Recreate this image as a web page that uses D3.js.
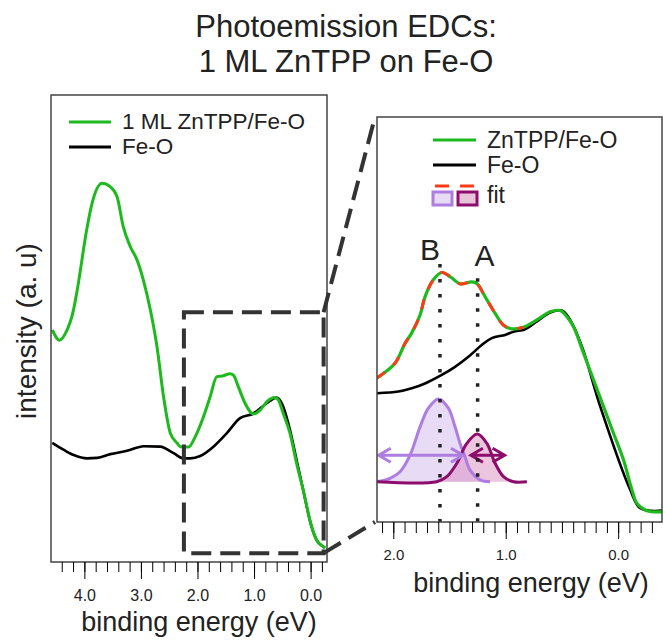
<html>
<script src='https://d3js.org/d3.v7.min.js'></script>
<style>
  body {margin:0; background:#fff;}
  text {font-family: 'Liberation Sans', Arial, sans-serif; fill:#222;}
</style>
<body>
<svg width=663 height=640></svg>
<script>
// ---- left panel: wide range EDCs (binding energy eV, intensity arb. u.)
var wideEnergyZn = [4.568,4.439,4.333,4.192,4.127,3.951,3.862,3.686,3.540,3.422,3.310,3.187,3.069,2.958,2.834,2.716,2.600,2.481,2.363,2.305,2.159,2.041,1.894,1.776,1.658,1.570,1.423,1.365,1.277,1.159,1.012,0.894,0.776,0.630,0.571,0.483,0.365,0.247,0.131,-0.018,-0.106,-0.222,-0.252];
var wideZn       = [49.7,47.5,49.0,54.0,58.2,71.7,76.9,81.1,80.3,78.2,71.7,67.5,64.7,60.4,54.0,46.1,35.4,27.6,25.5,24.7,24.6,26.8,31.1,35.4,39.7,39.8,40.3,40.0,37.5,34.0,31.7,32.5,34.3,35.2,34.7,31.8,27.6,21.1,15.4,7.6,4.7,3.3,3.0];
var wideEnergyFeO = [4.568,4.363,4.187,3.951,3.774,3.540,3.245,2.952,2.658,2.423,2.247,2.129,1.952,1.718,1.481,1.247,1.012,0.776,0.600,0.511,0.365,0.247,0.131,-0.018,-0.106,-0.222,-0.252];
var wideFeO       = [25.5,24.0,22.9,22.2,22.3,23.1,23.8,24.8,24.7,23.3,22.2,22.2,22.7,24.7,27.6,30.8,31.8,34.0,35.2,34.0,28.3,21.8,15.4,7.5,4.7,3.3,3.0];
var wideTicks = [4, 3, 2, 1, 0];
// zoomed region marked on the left panel
var zoomEnergy = [2.24, -0.23];
var zoomIntensity = [1.9, 53.5];

// ---- right panel: valence band close-up
var zoomEnergyZn = [2.148,1.985,1.896,1.836,1.762,1.718,1.644,1.569,1.495,1.406,1.302,1.257,1.183,1.094,1.020,0.946,0.842,0.723,0.605,0.516,0.456,0.397,0.308,0.219,0.130,0.041,-0.048,-0.123,-0.167,-0.256,-0.390];
var zoomZn       = [35.5,39.2,44.1,46.7,51.1,55.6,59.8,61.6,60.6,58.8,59.3,58.9,55.6,51.5,48.6,47.7,48.1,49.9,51.9,52.2,50.7,48.2,41.7,35.1,28.5,21.9,15.3,7.9,4.6,2.8,2.5];
var zoomEnergyFeO = [2.148,1.955,1.836,1.718,1.569,1.451,1.332,1.213,1.124,1.005,0.931,0.827,0.723,0.605,0.500,0.427,0.322,0.159,-0.108,-0.197,-0.390];
var zoomFeO       = [31.8,32.2,33.0,34.2,36.3,38.3,40.8,43.7,45.4,46.2,47.0,47.6,49.5,51.7,52.2,49.9,43.3,28.5,7.9,3.4,2.8];
var fitEnergy = [2.148,1.985,1.896,1.836,1.762,1.718,1.644,1.569,1.495,1.406,1.302,1.257,1.183,1.094,1.020,0.946,0.842];
var fitValues = [35.5,39.2,44.1,46.7,51.1,55.6,59.8,61.6,60.6,58.8,59.3,58.9,55.6,51.5,48.6,47.7,48.1];
// fit components B and A
var peakBEnergy = [2.148,2.029,1.940,1.851,1.762,1.688,1.599,1.510,1.451,1.406,1.362,1.317,1.228,1.139];
var peakB       = [9.95,10.8,12.4,16.5,23.5,28.1,30.4,28.1,23.5,19.4,16.1,12.8,10.4,9.95];
var peakAEnergy = [2.148,1.614,1.524,1.435,1.346,1.252,1.168,1.094,1.020,0.931,0.812];
var peakA       = [9.95,9.95,11.2,14.5,19.4,21.7,19.4,14.5,11.2,9.95,9.95];
var fitBaseline = 9.95;
var peakLabels = ["B", "A"];
var peakPositions = [1.585, 1.25];
var peakMarkTop = [63.7, 60.2];
var arrowRanges = [[2.13, 1.38], [1.31, 1.01]];
var arrowLevel = 16.5;
var zoomTicks = [2, 1, 0];

var green = "#1dba1d", red = "#ff3a17", lilac = "#ad7ddf", plum = "#8c0d6c";
var svg = d3.select("svg");

function pairs(xs, ys) { return xs.map(function(x, i){ return [x, ys[i]]; }); }

// title
svg.append("text").attr("x", 346).attr("y", 37).attr("text-anchor", "middle")
   .attr("font-size", 31).text("Photoemission EDCs:");
svg.append("text").attr("x", 346).attr("y", 72).attr("text-anchor", "middle")
   .attr("font-size", 31).text("1 ML ZnTPP on Fe-O");

// ---------- left panel
var xL = d3.scaleLinear().domain([4.59, -0.29]).range([51, 327]);
var yL = d3.scaleLinear().domain([0, 100]).range([562, 95]);

svg.append("clipPath").attr("id", "clipL").append("rect")
   .attr("x", 51).attr("y", 95).attr("width", 276).attr("height", 467);

var lineL = d3.line().x(function(d){ return xL(d[0]); }).y(function(d){ return yL(d[1]); })
   .curve(d3.curveMonotoneX);
var gL = svg.append("g").attr("clip-path", "url(#clipL)");
gL.append("path").attr("d", lineL(pairs(wideEnergyFeO, wideFeO).reverse()))
   .attr("fill", "none").attr("stroke", "#000").attr("stroke-width", 2.6);
gL.append("path").attr("d", lineL(pairs(wideEnergyZn, wideZn).reverse()))
   .attr("fill", "none").attr("stroke", green).attr("stroke-width", 3);

svg.append("rect").attr("x", 51).attr("y", 95).attr("width", 276).attr("height", 467)
   .attr("fill", "none").attr("stroke", "#444").attr("stroke-width", 1.5);

var minorL = d3.range(-0.2, 4.5, 0.2);
svg.append("g").attr("transform", "translate(0,562)")
   .call(d3.axisBottom(xL).tickValues(minorL).tickSize(10).tickFormat(""))
   .call(function(g){ g.select(".domain").remove(); });
svg.append("g").attr("transform", "translate(0,562)")
   .call(d3.axisBottom(xL).tickValues(wideTicks).tickSize(17).tickPadding(11).tickFormat(d3.format(".1f")))
   .call(function(g){ g.select(".domain").remove(); g.selectAll("text").attr("font-size", 16).attr("font-family", null); });

svg.append("text").attr("x", 199).attr("y", 631).attr("text-anchor", "middle")
   .attr("font-size", 27).text("binding energy (eV)");
svg.append("text").attr("transform", "translate(36,331) rotate(-90)").attr("text-anchor", "middle")
   .attr("font-size", 28).text("intensity (a. u)");

// legend left
svg.append("line").attr("x1", 69).attr("x2", 111).attr("y1", 122).attr("y2", 122)
   .attr("stroke", green).attr("stroke-width", 3);
svg.append("text").attr("x", 122).attr("y", 129).attr("font-size", 22.5).text("1 ML ZnTPP/Fe-O");
svg.append("line").attr("x1", 69).attr("x2", 111).attr("y1", 147).attr("y2", 147)
   .attr("stroke", "#000").attr("stroke-width", 3);
svg.append("text").attr("x", 122).attr("y", 154).attr("font-size", 22.5).text("Fe-O");

// zoom box + connectors
var dash = "20,9";
svg.append("rect")
   .attr("x", xL(zoomEnergy[0])).attr("y", yL(zoomIntensity[1]))
   .attr("width", xL(zoomEnergy[1]) - xL(zoomEnergy[0]))
   .attr("height", yL(zoomIntensity[0]) - yL(zoomIntensity[1]))
   .attr("fill", "none").attr("stroke", "#333").attr("stroke-width", 4).attr("stroke-dasharray", dash);

// ---------- right panel
var xR = d3.scaleLinear().domain([2.145, -0.39]).range([377, 662]);
var yR = d3.scaleLinear().domain([0, 100]).range([522, 117]);

svg.append("line").attr("x1", xL(zoomEnergy[1])).attr("y1", yL(zoomIntensity[1]))
   .attr("x2", xR.range()[0] - 2).attr("y2", yR.range()[1])
   .attr("stroke", "#333").attr("stroke-width", 4).attr("stroke-dasharray", dash);
svg.append("line").attr("x1", xL(zoomEnergy[1])).attr("y1", yL(zoomIntensity[0]))
   .attr("x2", xR.range()[0] - 2).attr("y2", yR.range()[0])
   .attr("stroke", "#333").attr("stroke-width", 4).attr("stroke-dasharray", dash);

svg.append("clipPath").attr("id", "clipR").append("rect")
   .attr("x", 377).attr("y", 117).attr("width", 285).attr("height", 405);
var gR = svg.append("g").attr("clip-path", "url(#clipR)");
var lineR = d3.line().x(function(d){ return xR(d[0]); }).y(function(d){ return yR(d[1]); })
   .curve(d3.curveCatmullRom);
var areaR = d3.area().x(function(d){ return xR(d[0]); }).y0(yR(fitBaseline)).y1(function(d){ return yR(d[1]); })
   .curve(d3.curveCatmullRom);

gR.append("path").attr("d", areaR(pairs(peakBEnergy, peakB))).attr("fill", lilac).attr("fill-opacity", 0.28);
gR.append("path").attr("d", areaR(pairs(peakAEnergy, peakA))).attr("fill", "#d98cbd").attr("fill-opacity", 0.5);
gR.append("path").attr("d", lineR(pairs(peakBEnergy, peakB)))
   .attr("fill", "none").attr("stroke", lilac).attr("stroke-width", 3);
gR.append("path").attr("d", lineR(pairs(peakAEnergy, peakA)))
   .attr("fill", "none").attr("stroke", plum).attr("stroke-width", 3);

// width arrows
[lilac, plum].forEach(function(c, i){
  var xa = xR(arrowRanges[i][0]), xb = xR(arrowRanges[i][1]), ya = yR(arrowLevel);
  gR.append("path")
    .attr("d", "M" + xa + "," + ya + "H" + xb +
               "M" + (xa + 12) + "," + (ya - 7) + "L" + xa + "," + ya + "L" + (xa + 12) + "," + (ya + 7) +
               "M" + (xb - 12) + "," + (ya - 7) + "L" + xb + "," + ya + "L" + (xb - 12) + "," + (ya + 7))
    .attr("fill", "none").attr("stroke", c).attr("stroke-width", 3);
});

gR.append("path").attr("d", lineR(pairs(zoomEnergyFeO, zoomFeO)))
   .attr("fill", "none").attr("stroke", "#000").attr("stroke-width", 2.6);
gR.append("path").attr("d", lineR(pairs(zoomEnergyZn, zoomZn)))
   .attr("fill", "none").attr("stroke", green).attr("stroke-width", 3.2);
gR.append("path").attr("d", lineR(pairs(fitEnergy, fitValues)))
   .attr("fill", "none").attr("stroke", red).attr("stroke-width", 3).attr("stroke-dasharray", "10,11");

// peak markers
peakPositions.forEach(function(e, i){
  svg.append("line").attr("x1", xR(e)).attr("x2", xR(e)).attr("y1", yR(peakMarkTop[i])).attr("y2", yR(0))
     .attr("stroke", "#222").attr("stroke-width", 3.5).attr("stroke-dasharray", "3.5,11.5");
});
svg.append("text").attr("x", xR(peakPositions[0]) - 10).attr("y", 260).attr("text-anchor", "middle")
   .attr("font-size", 30).text(peakLabels[0]);
svg.append("text").attr("x", xR(peakPositions[1]) + 7).attr("y", 266).attr("text-anchor", "middle")
   .attr("font-size", 30).text(peakLabels[1]);

svg.append("rect").attr("x", 377).attr("y", 117).attr("width", 285).attr("height", 405)
   .attr("fill", "none").attr("stroke", "#444").attr("stroke-width", 1.5);

var minorR = d3.range(-0.3, 2.15, 0.1);
svg.append("g").attr("transform", "translate(0,522)")
   .call(d3.axisBottom(xR).tickValues(minorR).tickSize(11).tickFormat(""))
   .call(function(g){ g.select(".domain").remove(); });
svg.append("g").attr("transform", "translate(0,522)")
   .call(d3.axisBottom(xR).tickValues(zoomTicks).tickSize(17).tickPadding(10).tickFormat(d3.format(".1f")))
   .call(function(g){ g.select(".domain").remove(); g.selectAll("text").attr("font-size", 15).attr("font-family", null); });

svg.append("text").attr("x", 531).attr("y", 592).attr("text-anchor", "middle")
   .attr("font-size", 27).text("binding energy (eV)");

// legend right
svg.append("line").attr("x1", 433).attr("x2", 476).attr("y1", 140).attr("y2", 140)
   .attr("stroke", green).attr("stroke-width", 3);
svg.append("text").attr("x", 487).attr("y", 148).attr("font-size", 23).text("ZnTPP/Fe-O");
svg.append("line").attr("x1", 433).attr("x2", 476).attr("y1", 165).attr("y2", 165)
   .attr("stroke", "#000").attr("stroke-width", 3);
svg.append("text").attr("x", 487).attr("y", 173).attr("font-size", 23).text("Fe-O");
[[433, lilac, "#e6dcf4"], [458, plum, "#e8c4db"]].forEach(function(s){
  svg.append("line").attr("x1", s[0] + 2).attr("x2", s[0] + 16).attr("y1", 186).attr("y2", 186)
     .attr("stroke", red).attr("stroke-width", 3);
  svg.append("rect").attr("x", s[0]).attr("y", 192).attr("width", 19).attr("height", 13)
     .attr("fill", s[2]).attr("stroke", s[1]).attr("stroke-width", 3);
});
svg.append("text").attr("x", 487).attr("y", 203).attr("font-size", 23).text("fit");
</script>
</body>
</html>
